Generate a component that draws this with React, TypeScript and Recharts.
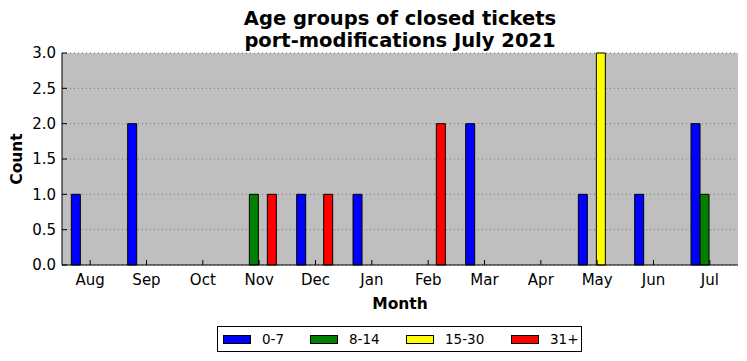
import { BarChart, Bar, XAxis, YAxis, CartesianGrid } from "recharts";

const months = ["Aug", "Sep", "Oct", "Nov", "Dec", "Jan", "Feb", "Mar", "Apr", "May", "Jun", "Jul"];
const days0to7 = [1, 2, 0, 0, 1, 1, 0, 2, 0, 1, 1, 2];
const days8to14 = [0, 0, 0, 1, 0, 0, 0, 0, 0, 0, 0, 1];
const days15to30 = [0, 0, 0, 0, 0, 0, 0, 0, 0, 3, 0, 0];
const days31plus = [0, 0, 0, 1, 1, 0, 2, 0, 0, 0, 0, 0];
const yTicks = [0, 0.5, 1, 1.5, 2, 2.5, 3];

const series = [
  { key: "g0", name: "0-7", color: "#0000ff", values: days0to7 },
  { key: "g1", name: "8-14", color: "#008000", values: days8to14 },
  { key: "g2", name: "15-30", color: "#ffff00", values: days15to30 },
  { key: "g3", name: "31+", color: "#ff0000", values: days31plus },
];

const data = months.map((m, i) => {
  const row: any = { month: m };
  series.forEach((s) => (row[s.key] = s.values[i]));
  return row;
});

const font = "'DejaVu Sans', sans-serif";
// legend entries sit in fixed-width slots like matplotlib's
const legendSlots = [87, 96, 105, 70];

export default function App() {
  return (
    <div style={{ position: "absolute", left: 0, top: 0, width: 747, height: 361, background: "#fff", fontFamily: font }}>
      {/* title */}
      <div style={{ position: "absolute", left: 62, width: 676, top: 8, textAlign: "center", fontWeight: "bold", fontSize: 19.5, lineHeight: "22px", color: "#000" }}>
        Age groups of closed tickets
        <br />
        port-modifications July 2021
      </div>

      <BarChart
        width={747}
        height={361}
        data={data}
        margin={{ top: 53, right: 9, left: 0, bottom: 0 }}
        barCategoryGap="16.6%"
        barGap={0}
      >
        <CartesianGrid vertical={false} fill="#bfbfbf" stroke="#777" strokeDasharray="1 3" />
        <XAxis
          dataKey="month"
          height={96}
          axisLine={{ stroke: "#000" }}
          tickLine={{ stroke: "#000" }}
          tickSize={-5}
          tickMargin={14}
          tick={{ fill: "#000", fontSize: 15, fontFamily: font }}
          label={{ value: "Month", position: "insideTop", offset: 33, fill: "#000", fontSize: 15.5, fontWeight: "bold", fontFamily: font }}
        />
        <XAxis
          xAxisId="top"
          orientation="top"
          dataKey="month"
          height={0}
          axisLine={{ stroke: "#000" }}
          tickLine={{ stroke: "#000" }}
          tickSize={-5}
          tick={false}
        />
        <YAxis
          width={62}
          domain={[0, 3]}
          ticks={yTicks}
          interval={0}
          tickFormatter={(v: number) => v.toFixed(1)}
          axisLine={{ stroke: "#000" }}
          tickLine={{ stroke: "#000" }}
          tickSize={-5}
          tickMargin={11}
          tick={{ fill: "#000", fontSize: 15, fontFamily: font }}
          label={{ value: "Count", angle: -90, position: "insideLeft", offset: 16, fill: "#000", fontSize: 15.5, fontWeight: "bold", fontFamily: font, style: { textAnchor: "middle" } }}
        />
        <YAxis
          yAxisId="right"
          orientation="right"
          width={0}
          domain={[0, 3]}
          ticks={yTicks}
          axisLine={{ stroke: "#000" }}
          tickLine={{ stroke: "#000" }}
          tickSize={-5}
          tick={false}
        />
        {series.map((s) => (
          <Bar key={s.key} dataKey={s.key} name={s.name} fill={s.color} stroke="#000" strokeWidth={1} isAnimationActive={false} />
        ))}
      </BarChart>

      {/* legend */}
      <div
        style={{
          position: "absolute",
          left: 217,
          top: 326,
          width: 365,
          height: 26,
          boxSizing: "border-box",
          border: "1px solid #000",
          display: "flex",
          alignItems: "center",
          paddingLeft: 5,
          fontSize: 13.5,
          color: "#000",
          whiteSpace: "nowrap",
        }}
      >
        {series.map((s, i) => (
          <div key={s.key} style={{ display: "flex", alignItems: "center", width: legendSlots[i], flexShrink: 0 }}>
            <div style={{ width: 28, height: 9, boxSizing: "border-box", background: s.color, border: "1px solid #000", marginRight: 11 }} />
            <span>{s.name}</span>
          </div>
        ))}
      </div>
    </div>
  );
}
